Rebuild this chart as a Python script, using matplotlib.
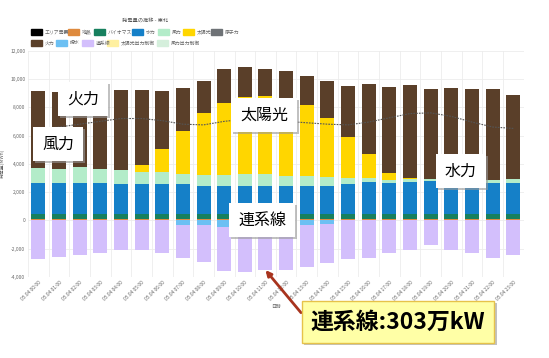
import matplotlib
matplotlib.use("Agg")
import matplotlib.pyplot as plt
import matplotlib.patheffects as pe
from matplotlib.patches import Rectangle
import numpy as np

plt.rcParams['font.family'] = ['Noto Sans CJK JP', 'DejaVu Sans']

W, H = 549, 358

hours = [f"05.04 {h:02d}:00" for h in range(24)]

geothermal = [90] * 24
biomass = [340] * 24
hydro = [2180, 2180, 2180, 2180, 2130, 2110, 2110, 2110, 2030, 2010, 2010, 2010,
         2010, 1990, 1990, 2130, 2250, 2180, 2290, 2340, 2270, 2220, 2220, 2200]
wind = [1060, 1010, 1130, 1010, 990, 890, 890, 730, 720, 760, 830, 830,
        710, 710, 640, 440, 350, 280, 240, 140, 180, 240, 190, 280]
solar = [0, 0, 0, 0, 0, 520, 1600, 3060, 4380, 5130, 5460, 5530,
         5340, 5060, 4210, 2890, 1690, 490, 30, 0, 0, 0, 0, 0]
thermal = [5480, 5460, 5340, 5580, 5700, 5290, 4110, 3060, 2290, 2350, 2080, 1930,
           2070, 2020, 2580, 3580, 4890, 6040, 6580, 6400, 6510, 6420, 6470, 5980]
pumped = [0, 0, 0, 0, 0, 0, 0, -330, -300, -450, -420, -480,
          -400, -330, -250, 0, 0, 0, 0, 0, 0, 0, 0, 0]
interconnect = [-2750, -2610, -2450, -2290, -2100, -2100, -2290, -2350, -2660, -3130, -3210, -3030,
                -3110, -2945, -2785, -2750, -2680, -2330, -2100, -1740, -2100, -2330, -2680, -2450]
demand = [6450, 6600, 6800, 7000, 7200, 7200, 7050, 6800, 6750, 7000, 7150, 7100,
          7000, 6900, 6800, 6750, 6950, 7250, 7550, 7600, 7350, 6950, 6600, 6500]

colors = {
    'エリア需要': '#000000', '地熱': '#de8a3e', 'バイオマス': '#17805e', '水力': '#1580c8',
    '風力': '#b3ecc9', '太陽光': '#ffd600', '原子力': '#6e7276',
    '火力': '#5a3f29', '揚水': '#6cc0f3', '連系線': '#d3bffc',
    '太陽光出力制御': '#fff0a0', '風力出力制御': '#d5efdc',
}

fig = plt.figure(figsize=(W / 100, H / 100), dpi=100)
ax = fig.add_axes([28 / W, 1 - 277 / H, (523.6 - 28) / W, (277 - 50.6) / H])

x = np.arange(24)
bw = 0.68
bottom = np.zeros(24)
for name, vals in [('地熱', geothermal), ('バイオマス', biomass), ('水力', hydro),
                   ('風力', wind), ('太陽光', solar), ('火力', thermal)]:
    v = np.array(vals, dtype=float)
    ax.bar(x, v, bw, bottom=bottom, color=colors[name], zorder=2)
    bottom += v

nb = np.zeros(24)
for name, vals in [('揚水', pumped), ('連系線', interconnect)]:
    v = np.array(vals, dtype=float)
    ax.bar(x, v, bw, bottom=nb, color=colors[name], zorder=2)
    nb += v

ax.plot(x, demand, color='#555555', lw=0.8, ls=(0, (1.5, 1)), zorder=3)

ax.set_xlim(-0.5, 23.5)
ax.set_ylim(-4000, 12000)
ax.set_yticks(range(-4000, 12001, 2000))
ax.set_yticklabels([f"{v:,}" for v in range(-4000, 12001, 2000)])
ax.set_xticks(x)
ax.set_xticklabels(hours, rotation=45, ha='right', rotation_mode='anchor')
ax.set_xticks(np.arange(-0.5, 24, 1), minor=True)
ax.tick_params(axis='both', length=0, labelsize=3.5, labelcolor='#666666', pad=2)
ax.tick_params(axis='x', which='minor', length=0)
ax.grid(axis='y', color='#ececec', lw=0.6, zorder=0)
ax.grid(axis='x', which='minor', color='#ececec', lw=0.6, zorder=0)
for s in ax.spines.values():
    s.set_visible(False)
ax.set_ylabel('発電量(MWh)', fontsize=3.5, color='#666666', labelpad=4)
ax.set_xlabel('日時', fontsize=3.5, color='#666666', labelpad=2)

fig.text(145 / W, 1 - 20 / H, '発電量の推移 - 東北', fontsize=3.8, color='#555555',
         ha='center', va='center')

# legend rows
legend_rows = [
    [(31, 'エリア需要'), (68, '地熱'), (94, 'バイオマス'), (132, '水力'),
     (158, '風力'), (183, '太陽光'), (211, '原子力')],
    [(31, '火力'), (56, '揚水'), (82, '連系線'), (107, '太陽光出力制御'), (157, '風力出力制御')],
]
for yy, row in zip([32, 43], legend_rows):
    for lx, name in row:
        fig.add_artist(Rectangle((lx / W, 1 - (yy + 2.5) / H), 11 / W, 5 / H,
                                 transform=fig.transFigure, color=colors[name]))
        fig.text((lx + 13.5) / W, 1 - yy / H, name, fontsize=3.5, color='#666666',
                 ha='left', va='center')

# label boxes
shadow = [pe.SimplePatchShadow(offset=(1.5, -1.5), shadow_rgbFace='#999999', alpha=0.6), pe.Normal()]
labels = [('火力', 83, 99), ('風力', 58, 144), ('太陽光', 264, 115), ('連系線', 262, 220), ('水力', 461, 171)]
for txt, cx, cy in labels:
    t = fig.text(cx / W, 1 - cy / H, txt, fontsize=11.5, color='black', ha='center', va='center',
                 bbox=dict(boxstyle='square,pad=0.55', fc='white', ec='none'), zorder=5)
    t.get_bbox_patch().set_path_effects(shadow)

# callout with arrow
ann = ax.annotate('連系線:303万kW', xy=(11, interconnect[11] + pumped[11]), xycoords='data',
                  xytext=(398 / W, 1 - 322 / H), textcoords='figure fraction',
                  fontsize=16.5, fontweight='bold', ha='center', va='center',
                  bbox=dict(boxstyle='square,pad=0.4', fc='#ffffa6', ec='#e6c24a', lw=1),
                  arrowprops=dict(arrowstyle='-|>', color='#a8341e', lw=2, mutation_scale=8,
                                  shrinkA=0, shrinkB=0, relpos=(0, 0.4)),
                  annotation_clip=False, zorder=6)
ann.get_bbox_patch().set_path_effects(shadow)

fig.savefig('out.png', dpi=100)
